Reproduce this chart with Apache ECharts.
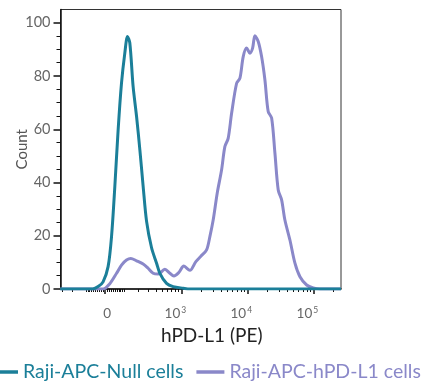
<!DOCTYPE html>
<html><head><meta charset="utf-8">
<script src="https://cdn.jsdelivr.net/npm/echarts@6/dist/echarts.min.js"></script>
<style>html,body{margin:0;padding:0;background:#fff}#c{width:427px;height:381px}</style>
</head><body><div id="c"></div>
<script>
// ---- data (x in display units of the biexponential axis, y = count) ----
const seriesNames = ['Raji-APC-Null cells', 'Raji-APC-hPD-L1 cells'];
const nullX = [-0.680,-0.188,-0.107,-0.032,0.044,0.096,0.146,0.196,0.247,0.297,0.338,0.373,0.423,0.475,0.525,0.575,0.626,0.702,0.778,0.828,0.929,1.029,1.181,1.282,3.570];
const nullY = [0,0,0.9,2.7,8.4,19.7,38.5,59.8,77.3,88.6,94.9,92.4,76,64.8,52.3,38.5,25.5,15.5,9.7,5.9,2.1,0.9,0.3,0,0];
const pdl1X = [-0.680,-0.032,0.070,0.172,0.247,0.323,0.388,0.475,0.575,0.650,0.726,0.802,0.903,0.979,1.040,1.115,1.191,1.282,1.373,1.449,1.535,1.585,1.635,1.696,1.762,1.812,1.862,1.914,1.990,2.040,2.090,2.141,2.191,2.232,2.267,2.317,2.368,2.418,2.468,2.520,2.570,2.620,2.671,2.721,2.797,2.873,2.949,3.050,3.150,3.252,3.570];
const pdl1Y = [0,0,2,5.9,9,10.9,11.5,10.6,9.4,7.8,5.9,5.6,7.4,5.9,4.9,6.2,8.6,7,10.3,12.3,14.7,19.7,25.9,36,44.7,53.5,56.6,66,77.3,79.2,87.3,90.5,88.6,90.5,95.1,93,87.3,78.6,66.7,64.2,51,37.2,33.5,25.9,18.4,9.7,4.6,1.5,0.4,0,0];
const xLabelValues = [0, 1e3, 1e4, 1e5];
const xLabelBase = ['0', '10', '10', '10'];
const xLabelExp = ['', '3', '4', '5'];
const yTickValues = [0, 20, 40, 60, 80, 100];
const yMinorValues = [5,10,15,25,30,35,45,50,55,65,70,75,85,90,95];
const X_MIN = -320, X_MAX = 262144, Y_MIN = 0, Y_MAX = 105;
const colors = ['#1b7f99', '#8a88c9'];

// ---- biexponential (arcsinh) display transform ----
const C = 141;
function toDisplay(v) { return Math.asinh(v / C) / Math.LN10; }
const minorVals = [];
for (let n = 1; n <= 5; n++) {
  for (let k = 1; k <= 9; k++) {
    const v = k * Math.pow(10, n);
    if (xLabelValues.includes(v)) continue;
    if (v <= X_MAX) minorVals.push(v);
    if (n <= 2 && -v >= X_MIN) minorVals.push(-v);
  }
}
const majorD = xLabelValues.map(toDisplay);
const minorD = minorVals.map(toDisplay);
const xMin = toDisplay(X_MIN), xMax = toDisplay(X_MAX);

function pairs(xs, ys) { return xs.map((x, i) => [x, ys[i]]); }

const chart = echarts.init(document.getElementById('c'));
const FONT = 'Lato';
chart.setOption({
  animation: false,
  textStyle: { fontFamily: FONT },
  grid: { left: 60.5, right: 86, top: 9.5, bottom: 92, show: true, borderColor: '#333', borderWidth: 1, containLabel: false },
  xAxis: [{
    type: 'value', min: xMin, max: xMax, position: 'bottom',
    axisLine: { show: true, onZero: false, lineStyle: { color: '#111', width: 1.5 } },
    axisTick: { show: true, customValues: majorD, length: 5, lineStyle: { color: '#111', width: 1.5 } },
    axisLabel: {
      customValues: majorD, margin: 17,
      formatter: function (val) {
        let best = 0;
        majorD.forEach((d, i) => { if (Math.abs(d - val) < Math.abs(majorD[best] - val)) best = i; });
        if (!xLabelExp[best]) return '{z|' + xLabelBase[best] + '}';
        return '{b|' + xLabelBase[best] + '}{s|' + xLabelExp[best] + '}';
      },
      rich: {
        z: { fontFamily: FONT, fontSize: 13.5, color: '#666', lineHeight: 16, padding: [0, 0, 0, 4] },
        b: { fontFamily: FONT, fontSize: 13.5, color: '#666', lineHeight: 16 },
        s: { fontFamily: FONT, fontSize: 8.5, color: '#666', verticalAlign: 'top', lineHeight: 10, padding: [0, 12, 0, 1] }
      }
    },
    splitLine: { show: false },
    name: 'hPD-L1 (PE)', nameLocation: 'middle', nameGap: 37, nameMoveOverlap: false,
    nameTextStyle: { fontFamily: FONT, fontSize: 19, color: '#222', padding: [0, 0, 0, 22] }
  }, {
    type: 'value', min: xMin, max: xMax, position: 'bottom',
    axisLine: { show: false, onZero: false },
    axisTick: { show: true, customValues: minorD, length: 3, lineStyle: { color: '#111', width: 1 } },
    axisLabel: { show: false }, splitLine: { show: false }
  }],
  yAxis: [{
    type: 'value', min: Y_MIN, max: Y_MAX, position: 'left',
    axisLine: { show: true, onZero: false, lineStyle: { color: '#111', width: 1.5 } },
    axisTick: { show: true, customValues: yTickValues, length: 7, lineStyle: { color: '#111', width: 1.5 } },
    axisLabel: { customValues: yTickValues, margin: 10, fontFamily: FONT, fontSize: 14.5, color: '#666' },
    splitLine: { show: false },
    name: 'Count', nameLocation: 'middle', nameGap: 31, nameRotate: 90, nameMoveOverlap: false,
    nameTextStyle: { fontFamily: FONT, fontSize: 15, color: '#555' }
  }, {
    type: 'value', min: Y_MIN, max: Y_MAX, position: 'left',
    axisLine: { show: false, onZero: false },
    axisTick: { show: true, customValues: yMinorValues, length: 4, lineStyle: { color: '#111', width: 1 } },
    axisLabel: { show: false }, splitLine: { show: false }
  }],
  legend: {
    left: -15, top: 357, width: 520, itemWidth: 28, itemHeight: 3.5, itemGap: 13, icon: 'rect',
    textStyle: { fontFamily: FONT, fontSize: 19.5 },
    data: seriesNames.map((n, i) => ({ name: n, textStyle: { color: colors[i] } }))
  },
  series: [{
    name: seriesNames[1], type: 'line', data: pairs(pdl1X, pdl1Y), xAxisIndex: 0, yAxisIndex: 0,
    symbol: 'none', smooth: 0.3, color: colors[1], lineStyle: { width: 3, color: colors[1] }, z: 2
  }, {
    name: seriesNames[0], type: 'line', data: pairs(nullX, nullY), xAxisIndex: 0, yAxisIndex: 0,
    symbol: 'none', smooth: 0.3, color: colors[0], lineStyle: { width: 3, color: colors[0] }, z: 3
  }]
});
</script></body></html>
